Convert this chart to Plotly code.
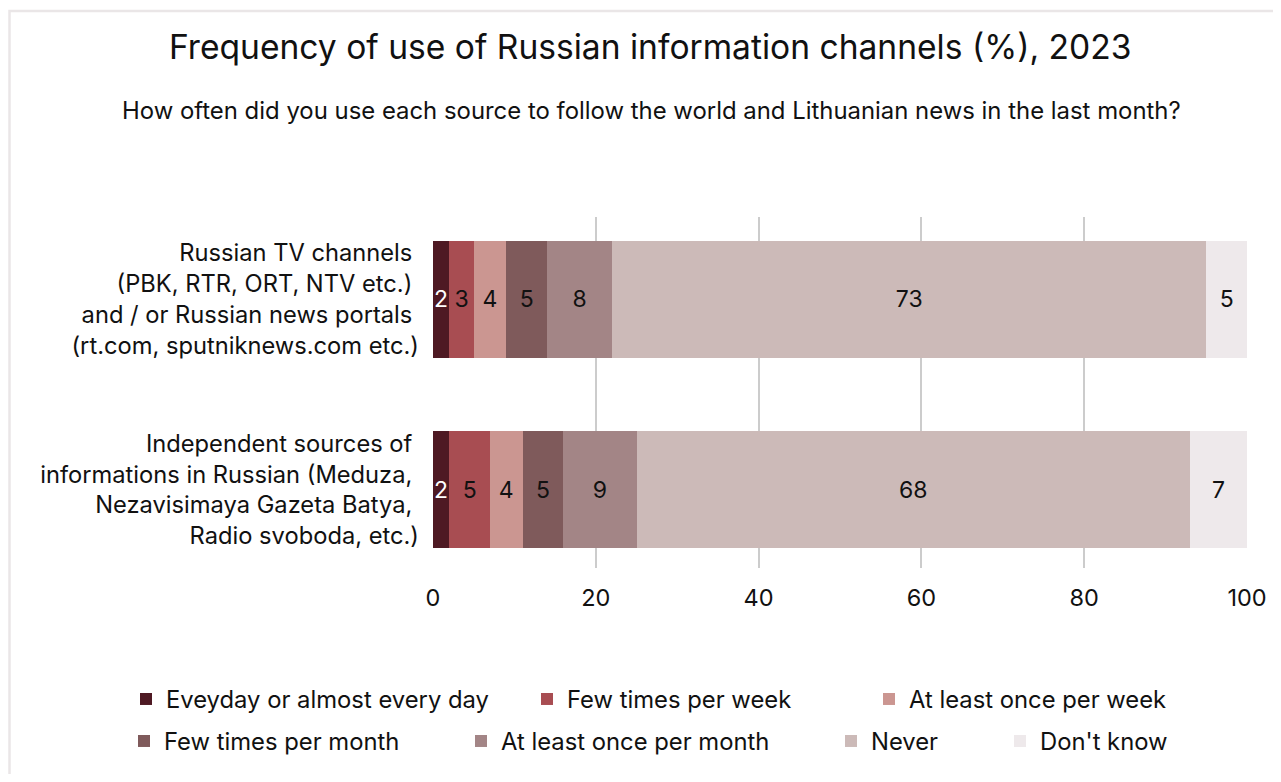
import plotly.graph_objects as go

categories = [
    "Russian TV channels <br>(PBK, RTR, ORT, NTV etc.) <br>and / or Russian news portals <br>(rt.com, sputniknews.com etc.)",
    "Independent sources of <br>informations in Russian (Meduza, <br>Nezavisimaya Gazeta Batya, <br>Radio svoboda, etc.)",
]
series_names = [
    "Eveyday or almost every day",
    "Few times per week",
    "At least once per week",
    "Few times per month",
    "At least once per month",
    "Never",
    "Don't know",
]
everyday = [2, 2]
few_week = [3, 5]
once_week = [4, 4]
few_month = [5, 5]
once_month = [8, 9]
never = [73, 68]
dont_know = [5, 7]
series_values = [everyday, few_week, once_week, few_month, once_month, never, dont_know]

colors = ["#4E1923", "#A84D52", "#CB9691", "#7F5A5B", "#A38586", "#CCBAB8", "#EEE9EB"]
text_colors = ["#FFFFFF"] + ["#111111"] * 6

FONT = "Inter"
OFF = 8  # default page body margin
W, H = 1281 - 2 * OFF, 782 - 2 * OFF
# plot area in page pixels
L, R, T, B = 433, 1247, 217, 569
pw, ph = R - L, B - T

def px_x(x):
    return (x - L) / pw

def px_y(y):
    return (B - y) / ph

fig = go.Figure()
legend_ids = ["legend", "legend2", "legend3", "legend4", "legend5", "legend6", "legend7"]
for i, (name, vals) in enumerate(zip(series_names, series_values)):
    fig.add_trace(go.Bar(
        y=[0, 1], x=vals, name=name, orientation="h",
        marker=dict(color=colors[i], line=dict(width=0)),
        width=0.613,
        text=[str(v) for v in vals], textposition="inside",
        insidetextanchor="middle", textangle=0, constraintext="none",
        textfont=dict(color=text_colors[i], size=23, family=FONT),
        legend=legend_ids[i], hoverinfo="x+name",
    ))

# legend positions (text left pixel, text center y pixel)
leg_pos = [(166, 699), (567, 699), (909, 699), (164, 741), (501, 741), (871, 741), (1040, 741)]
layout_legends = {}
for lid, (tx, ty) in zip(legend_ids, leg_pos):
    layout_legends[lid] = dict(
        x=px_x(tx - 40), y=px_y(ty), xanchor="left", yanchor="middle",
        orientation="h", font=dict(size=23.8, family=FONT, color="#111111"),
        bgcolor="rgba(0,0,0,0)", borderwidth=0,
    )

fig.update_layout(
    width=W, height=H,
    margin=dict(l=L - OFF, r=W - (R - OFF), t=T - OFF, b=H - (B - OFF)),
    barmode="stack",
    plot_bgcolor="white", paper_bgcolor="white",
    font=dict(family=FONT, color="#111111"),
    uniformtext=dict(minsize=23, mode="show"),
    showlegend=True,
    xaxis=dict(
        range=[0, 100], tickvals=[0, 20, 40, 60, 80, 100],
        showgrid=True, gridcolor="#CCCCCC", gridwidth=2,
        zeroline=False, showline=False, automargin=False,
        tickfont=dict(size=23.5, family=FONT, color="#111111"),
        ticklabelstandoff=13,
    ),
    yaxis=dict(
        range=[1.411, -0.432], tickvals=[0, 1], ticktext=categories,
        showgrid=False, zeroline=False, showline=False, automargin=False,
        tickfont=dict(size=23.7, family=FONT, color="#111111"),
        ticklabelstandoff=13,
    ),
    annotations=[
        dict(text="Frequency of use of Russian information channels (%), 2023",
             x=px_x(650), y=px_y(46), xref="paper", yref="paper",
             xanchor="center", yanchor="middle", showarrow=False,
             font=dict(size=33.6, family=FONT, color="#111111")),
        dict(text="How often did you use each source to follow the world and Lithuanian news in the last month?",
             x=px_x(651), y=px_y(110), xref="paper", yref="paper",
             xanchor="center", yanchor="middle", showarrow=False,
             font=dict(size=23.9, family=FONT, color="#111111")),
    ],
    shapes=[
        dict(type="rect", xref="paper", yref="paper",
             x0=px_x(9.5), x1=px_x(1300), y0=px_y(800), y1=px_y(10.5),
             line=dict(color="#EAE6E7", width=2.5), fillcolor="rgba(0,0,0,0)",
             layer="below"),
    ],
    **layout_legends,
)

fig.write_html("out.html")
